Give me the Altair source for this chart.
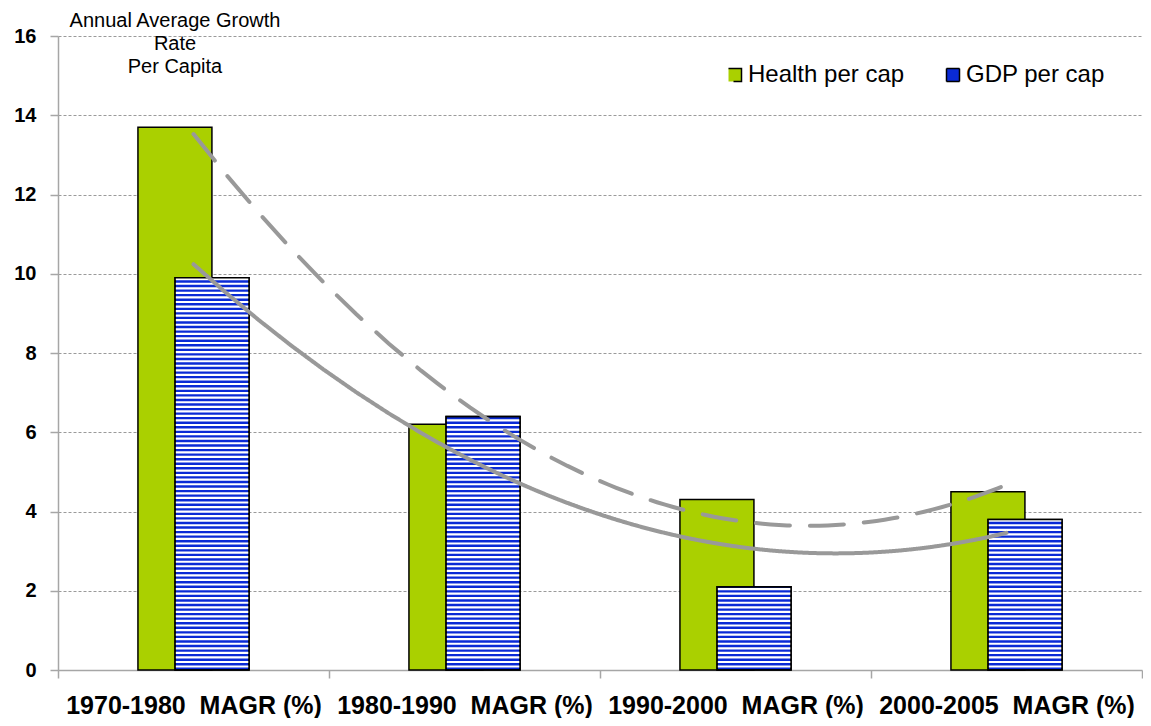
import altair as alt
import pandas as pd

periods = ["1970-1980", "1980-1990", "1990-2000", "2000-2005"]
suffix = "\u00a0\u00a0MAGR (%)"
health = [13.7, 6.2, 4.3, 4.5]
gdp = [9.9, 6.4, 2.1, 3.8]
series_names = ["Health per cap", "GDP per cap"]
annotation_lines = ["Annual Average Growth", "Rate", "Per Capita"]
y_ticks = [0, 2, 4, 6, 8, 10, 12, 14, 16]

GREEN = "#aad000"
BLUE = "#0a2ad6"
GRAY_LINE = "#999999"
AXIS_GRAY = "#a6a6a6"
FONT = "Liberation Sans"

W, H = 1084, 634

rows = []
for i, (p, v) in enumerate(zip(periods, health)):
    rows.append({"period": p, "idx": i, "series": series_names[0], "value": v})
for i, (p, v) in enumerate(zip(periods, gdp)):
    rows.append({"period": p, "idx": i, "series": series_names[1], "value": v})
df = pd.DataFrame(rows)

x_labels = [p + suffix for p in periods]
label_expr = "[" + ",".join("'" + s + "'" for s in x_labels) + "][round(datum.value + 0.5)] || ''"

x_scale = alt.Scale(domain=[-0.5, 3.5], nice=False, zero=False)
y_scale = alt.Scale(domain=[0, 16], nice=False)

x_axis = alt.Axis(
    values=[-0.5, 0.5, 1.5, 2.5, 3.5], labelExpr=label_expr, labelOffset=W / 8,
    labelFlush=False, labelOverlap=False, labelBound=False, labelFontSize=25,
    labelFontWeight="bold", labelFont=FONT, labelColor="black", labelPadding=15,
    labelLimit=400, tickSize=8, tickColor=AXIS_GRAY, domainColor=AXIS_GRAY,
    domainWidth=1.5, tickWidth=1.5, grid=False, title=None,
)
y_axis = alt.Axis(
    values=y_ticks, labelFontSize=20, labelFontWeight="bold", labelFont=FONT,
    labelColor="black", labelPadding=14, tickSize=8, tickColor=AXIS_GRAY,
    domainColor=AXIS_GRAY, domainWidth=1.5, tickWidth=1.5, grid=True,
    gridColor="#9a9a9a", gridDash=[3, 2], gridWidth=1, title=None,
)

pos_calc = dict(
    x0="datum.idx + (datum.series == 'Health per cap' ? -0.205 : -0.068)",
    x1="datum.x0 + 0.273",
)

base = alt.Chart(df)

bars = base.transform_calculate(**pos_calc).mark_rect(
    stroke="black", strokeWidth=1.5, opacity=1
).encode(
    x=alt.X("x0:Q", scale=x_scale, axis=x_axis),
    x2="x1:Q",
    y=alt.Y("value:Q", scale=y_scale, axis=y_axis),
    y2=alt.datum(0),
    color=alt.Color(
        "series:N",
        scale=alt.Scale(domain=series_names, range=[GREEN, BLUE]),
        legend=alt.Legend(
            orient="none", legendX=665, legendY=27, direction="horizontal",
            title=None, symbolType="square", symbolSize=169,
            symbolStrokeColor="black", symbolStrokeWidth=1.5, symbolOpacity=1,
            labelFontSize=24, labelFont=FONT, labelColor="black", labelOffset=1,
            columnPadding=36, labelLimit=300,
        ),
    ),
)

stripes = base.transform_filter(
    "datum.series == 'GDP per cap'"
).transform_calculate(**pos_calc).transform_calculate(
    s="sequence(0.06, datum.value - 0.03, 0.115)"
).transform_flatten(["s"]).transform_calculate(
    s2="datum.s + 0.055"
).mark_rect(fill="white", strokeWidth=0).encode(
    x=alt.X("x0:Q", scale=x_scale, axis=x_axis),
    x2="x1:Q",
    y=alt.Y("s:Q", scale=y_scale, axis=y_axis),
    y2="s2:Q",
)

outline = base.transform_filter(
    "datum.series == 'GDP per cap'"
).transform_calculate(**pos_calc).mark_rect(
    fillOpacity=0, stroke="black", strokeWidth=1.5
).encode(
    x=alt.X("x0:Q", scale=x_scale, axis=x_axis),
    x2="x1:Q",
    y=alt.Y("value:Q", scale=y_scale, axis=y_axis),
    y2=alt.datum(0),
)

trend = base.transform_regression(
    "idx", "value", groupby=["series"], method="poly", order=2
).mark_line(color=GRAY_LINE, strokeWidth=4, strokeCap="round").encode(
    x=alt.X("idx:Q", scale=x_scale, axis=x_axis),
    y=alt.Y("value:Q", scale=y_scale, axis=y_axis),
    strokeDash=alt.StrokeDash(
        "series:N",
        scale=alt.Scale(domain=series_names, range=[[34, 20], [1, 0]]),
        legend=None,
    ),
)

note = alt.Chart(pd.DataFrame({"a": [0]})).mark_text(
    text=annotation_lines, lineHeight=23, fontSize=20, font=FONT,
    color="black", align="center", baseline="alphabetic",
).encode(x=alt.value(117), y=alt.value(-9))

chart = alt.layer(bars, stripes, outline, trend, note).properties(
    width=W, height=H,
    padding={"left": 50, "top": 28, "right": 1, "bottom": 48},
    autosize=alt.AutoSizeParams(type="none"),
    background="white",
).configure_view(strokeWidth=0)

chart.save("out.html", embed_options={"renderer": "svg", "actions": False})
